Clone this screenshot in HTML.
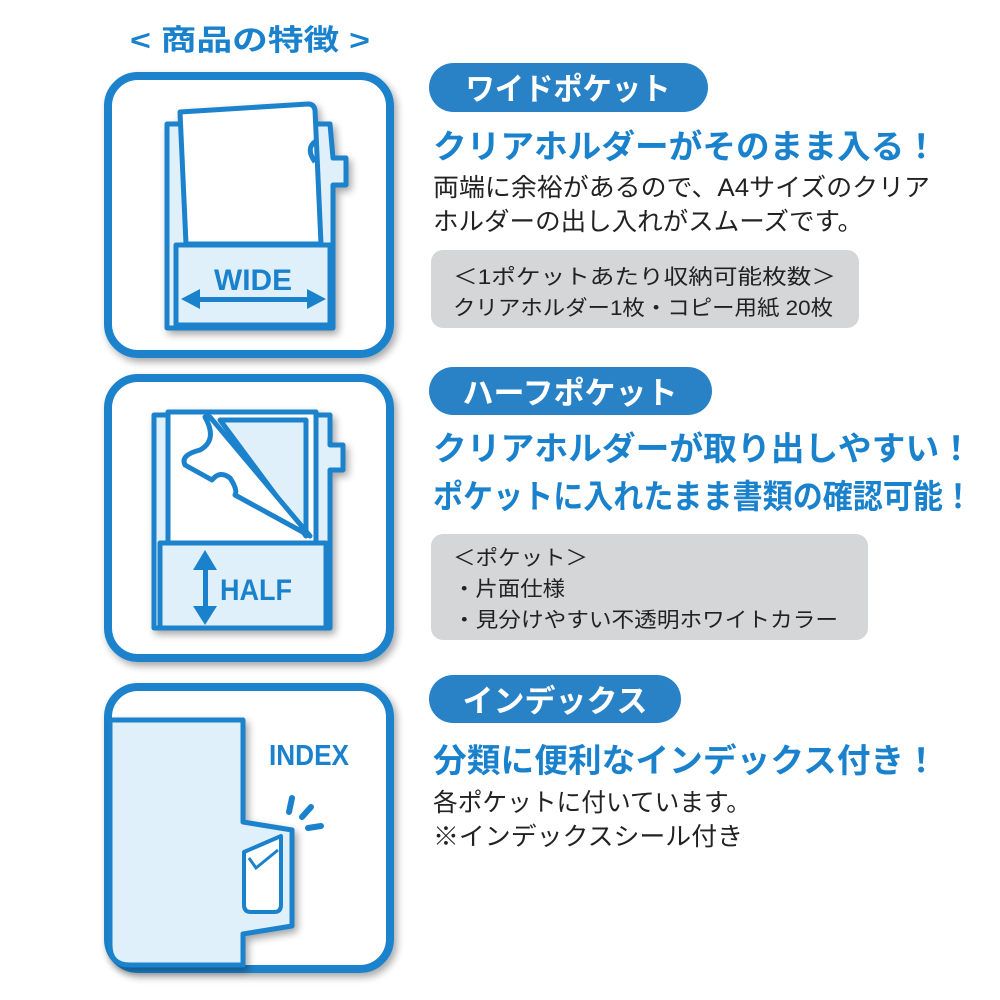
<!DOCTYPE html>
<html><head><meta charset="utf-8"><style>
html,body{margin:0;padding:0;background:#fff;width:1000px;height:1000px;overflow:hidden}
svg{display:block}
text{font-family:"Liberation Sans","Noto Sans CJK JP",sans-serif}
</style></head><body>
<svg width="1000" height="1000" viewBox="0 0 1000 1000" xmlns="http://www.w3.org/2000/svg">
<defs>
<filter id="sh" x="-10%" y="-10%" width="130%" height="130%"><feGaussianBlur in="SourceAlpha" stdDeviation="4"/><feOffset dx="3" dy="4"/><feComponentTransfer><feFuncA type="linear" slope="0.35"/></feComponentTransfer><feMerge><feMergeNode/><feMergeNode in="SourceGraphic"/></feMerge></filter>
</defs>
<g fill="none" stroke="#1a82cc" stroke-linejoin="round">
<!-- title -->
</g>
<text x="250" y="50" text-anchor="middle" font-size="29" font-weight="bold" fill="#1a82cc" textLength="240" lengthAdjust="spacingAndGlyphs">&lt; 商品の特徴 &gt;</text>

<!-- Box 1 -->
<rect x="108" y="76" width="282" height="278" rx="30" fill="#fff" stroke="#1a82cc" stroke-width="8" filter="url(#sh)"/>
<g filter="url(#sh)" stroke="#1a82cc" stroke-width="5" stroke-linejoin="round">
<path d="M167 124 H330 L333 158 H346 V185 L333 185 V328 H167 Z" fill="#e0f0fb"/>
<path d="M180 112 L308 104 Q314 104 315 110 L321 244 H186 Z" fill="#fff"/>
<path d="M316 141 Q305 148 315 162" fill="none"/>
<rect x="176" y="245" width="154" height="80" fill="#e0f0fb"/>
</g>
<text x="253" y="290" text-anchor="middle" font-size="30" font-weight="bold" fill="#1a82cc" textLength="78" lengthAdjust="spacingAndGlyphs">WIDE</text>
<g fill="#1a82cc"><rect x="195" y="297" width="116" height="5"/><polygon points="181,299 200,289 200,309"/><polygon points="326,299 307,289 307,309"/></g>

<!-- Box 2 -->
<rect x="108" y="378" width="282" height="280" rx="30" fill="#fff" stroke="#1a82cc" stroke-width="8" filter="url(#sh)"/>
<g filter="url(#sh)" stroke="#1a82cc" stroke-width="5" stroke-linejoin="round">
<path d="M154 415 H330 V445 H343 V470 H330 V628 H154 Z" fill="#e0f0fb"/>
<rect x="168" y="412" width="148" height="132" fill="#fff"/>
<path d="M220 420 L306 420 L306 536 Z" fill="#e0f0fb"/>
<path d="M205 417 Q218 440 200 450 Q180 455 185 465 L212 480 Q220 470 230 478 Q238 490 235 495 L310 536 L210 417 Z" fill="#fff"/>
<rect x="160" y="543" width="166" height="85" fill="#e0f0fb"/>
</g>
<g fill="#1a82cc"><rect x="203" y="568" width="5" height="52"/><polygon points="205,550 193,570 217,570"/><polygon points="205,625 193,606 217,606"/></g>
<text x="256" y="600" text-anchor="middle" font-size="30" font-weight="bold" fill="#1a82cc" textLength="72" lengthAdjust="spacingAndGlyphs">HALF</text>

<!-- Box 3 -->
<rect x="108" y="687" width="282" height="282" rx="30" fill="#fff" stroke="#1a82cc" stroke-width="8" filter="url(#sh)"/>
<path d="M110 720 H243 V822 L292 830 V926 L243 934 V965 H130 Q110 965 110 945 Z" fill="#e0f0fb" stroke="#1a82cc" stroke-width="5" stroke-linejoin="round" filter="url(#sh)"/>
<path d="M244 852 L281 836 L281 905 Q281 912 274 912 L251 912 Q244 912 244 905 Z" fill="#fff" stroke="#1a82cc" stroke-width="4" stroke-linejoin="round"/>
<path d="M249 858 L256 868 L278 850" fill="none" stroke="#1a82cc" stroke-width="3"/>
<text x="309" y="765" text-anchor="middle" font-size="29" font-weight="bold" fill="#1a82cc" textLength="80" lengthAdjust="spacingAndGlyphs">INDEX</text>
<g stroke="#1a82cc" stroke-width="6" stroke-linecap="round"><line x1="292" y1="798" x2="289" y2="812"/><line x1="311" y1="807" x2="302" y2="817"/><line x1="308" y1="828" x2="321" y2="826"/></g>

<!-- Right column -->
<rect x="429" y="63" width="279" height="49" rx="24.5" fill="#2a82c6"/>
<text x="568" y="100" text-anchor="middle" font-size="31" font-weight="bold" fill="#fff" textLength="205" lengthAdjust="spacingAndGlyphs">ワイドポケット</text>
<text x="433" y="158" font-size="33" font-weight="bold" fill="#1a82cc" textLength="505" lengthAdjust="spacingAndGlyphs">クリアホルダーがそのまま入る！</text>
<text x="433" y="196" font-size="25" fill="#222" textLength="497" lengthAdjust="spacingAndGlyphs">両端に余裕があるので、A4サイズのクリア</text>
<text x="433" y="230" font-size="25" fill="#222" textLength="430" lengthAdjust="spacingAndGlyphs">ホルダーの出し入れがスムーズです。</text>
<rect x="431" y="250" width="428" height="78" rx="12" fill="#d5d6d8"/>
<text x="453" y="284" font-size="21" fill="#222" textLength="383" lengthAdjust="spacingAndGlyphs">＜1ポケットあたり収納可能枚数＞</text>
<text x="453" y="315" font-size="21" fill="#222" textLength="380" lengthAdjust="spacingAndGlyphs">クリアホルダー1枚・コピー用紙 20枚</text>

<rect x="429" y="367" width="283" height="48" rx="24" fill="#2a82c6"/>
<text x="570" y="404" text-anchor="middle" font-size="31" font-weight="bold" fill="#fff" textLength="215" lengthAdjust="spacingAndGlyphs">ハーフポケット</text>
<text x="433" y="460" font-size="33" font-weight="bold" fill="#1a82cc" textLength="540" lengthAdjust="spacingAndGlyphs">クリアホルダーが取り出しやすい！</text>
<text x="433" y="508" font-size="33" font-weight="bold" fill="#1a82cc" textLength="540" lengthAdjust="spacingAndGlyphs">ポケットに入れたまま書類の確認可能！</text>
<rect x="431" y="534" width="437" height="106" rx="12" fill="#d5d6d8"/>
<text x="453" y="565" font-size="21" fill="#222" textLength="135" lengthAdjust="spacingAndGlyphs">＜ポケット＞</text>
<text x="453" y="596" font-size="21" fill="#222" textLength="112" lengthAdjust="spacingAndGlyphs">・片面仕様</text>
<text x="453" y="627" font-size="21" fill="#222" textLength="385" lengthAdjust="spacingAndGlyphs">・見分けやすい不透明ホワイトカラー</text>

<rect x="429" y="675" width="252" height="48" rx="24" fill="#2a82c6"/>
<text x="555" y="712" text-anchor="middle" font-size="31" font-weight="bold" fill="#fff" textLength="185" lengthAdjust="spacingAndGlyphs">インデックス</text>
<text x="433" y="772" font-size="33" font-weight="bold" fill="#1a82cc" textLength="505" lengthAdjust="spacingAndGlyphs">分類に便利なインデックス付き！</text>
<text x="433" y="811" font-size="25" fill="#222" textLength="318" lengthAdjust="spacingAndGlyphs">各ポケットに付いています。</text>
<text x="433" y="845" font-size="25" fill="#222" textLength="310" lengthAdjust="spacingAndGlyphs">※インデックスシール付き</text>
</svg>
</body></html>
